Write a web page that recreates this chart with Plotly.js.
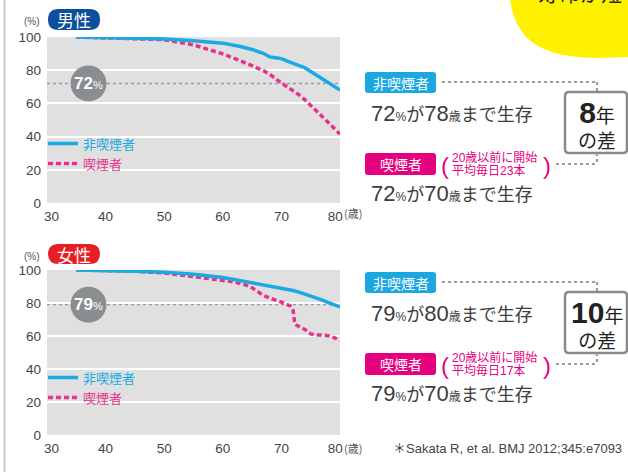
<!DOCTYPE html>
<html><head><meta charset="utf-8">
<script src="https://cdn.plot.ly/plotly-3.0.1.min.js"></script>
<style>html,body{margin:0;padding:0;background:#fff;}#chart{width:628px;height:472px;}</style>
</head><body><div id="chart"></div>
<script>
// ---------- data ----------
const maleAges        = [35,40,45,50,55,60,63,65,67,68,69,70,71,72,73,74,75,76,77,78,79,80];
const maleNonSmoker   = [100,99.6,99.2,98.8,97.8,96.3,94.3,92.5,90,88,87.5,87,85.5,84.2,83,81.5,79.2,77,74.5,72.3,70.5,68];
const maleSmoker      = [100,99.6,99.2,98.4,95.3,89.8,85.7,82.8,79.6,77.6,74.6,72.2,70,67.8,65.2,62.2,59,55.7,52,48.5,45,41.5];
const femaleNonAges   = [35,40,45,50,55,60,63,65,67,69,70,71,72,73,74,75,76,77,78,79,80];
const femaleNonSmoker = [100,99.8,99.3,98.6,97.4,95.5,93.5,92.3,91.2,90,89.2,88.4,87.6,86.6,85.5,84.3,83,81.7,80.3,79,77.6];
const femaleSmkAges   = [35,40,45,50,55,58,60,62,63,64,65,66,67,68,69,70,71,71.5,72,72.3,73,74,75,76,77,78,79,80];
const femaleSmoker    = [100,99.8,99.3,98.2,96,94.8,93.8,92.8,91.8,90.8,89.2,86.8,84.5,83,82,80.5,79,78.3,75.5,67,65.8,64,61.3,60.6,60.6,60.2,59,57.3];
const xTickLabels = ['30','40','50','60','70','80'];
const xTickPos    = [30.75,40,50,60,70,79.2];   // end labels nudged inward as in the original
const yTicks = [0,20,40,60,80,100];
const refLevel = [72, 79];          // male, female survival level
const nonSmokerAge = [78, 80];
const smokerAge = [70, 70];
const yearsGap = [8, 10];
const cigsPerDay = [23, 17];
const sexLabels = ['男性','女性'];
const seriesNames = ['非喫煙者','喫煙者'];

// ---------- styling ----------
const W = 628, H = 472;
const BLUE = '#1aa9e3', PINK = '#e5338c', PINKBOX = '#e4007f', BLUEBOX = '#1ba8e0';
const TXT = '#3c3c3c';
const FONT = '"Liberation Sans", "Noto Sans CJK JP", sans-serif';
const JP = '"Noto Sans CJK JP", sans-serif';
const px = x => x / W, py = y => 1 - y / H;
function rr(x0,y0,x1,y1,r){
  const X=px,Y=py;
  return `M${X(x0+r)},${Y(y0)} L${X(x1-r)},${Y(y0)} Q${X(x1)},${Y(y0)} ${X(x1)},${Y(y0+r)} L${X(x1)},${Y(y1-r)} Q${X(x1)},${Y(y1)} ${X(x1-r)},${Y(y1)} L${X(x0+r)},${Y(y1)} Q${X(x0)},${Y(y1)} ${X(x0)},${Y(y1-r)} L${X(x0)},${Y(y0+r)} Q${X(x0)},${Y(y0)} ${X(x0+r)},${Y(y0)} Z`;
}
const xDom = [47/W, 340/W];
const topDom = [(H-203)/H, (H-37)/H];
const botDom = [(H-435)/H, (H-270)/H];

const traces = [
  {x:maleAges, y:maleSmoker, xaxis:'x', yaxis:'y', mode:'lines', name:seriesNames[1], legend:'legend2',
   line:{color:PINK, width:3.5, dash:'5px,3px'}},
  {x:maleAges, y:maleNonSmoker, xaxis:'x', yaxis:'y', mode:'lines', name:seriesNames[0], legend:'legend',
   line:{color:BLUE, width:3.5}},
  {x:femaleSmkAges, y:femaleSmoker, xaxis:'x2', yaxis:'y2', mode:'lines', name:seriesNames[1], legend:'legend4',
   line:{color:PINK, width:3.5, dash:'5px,3px'}},
  {x:femaleNonAges, y:femaleNonSmoker, xaxis:'x2', yaxis:'y2', mode:'lines', name:seriesNames[0], legend:'legend3',
   line:{color:BLUE, width:3.5}}
];

function xa(dom, anchor){ return {domain:dom, anchor:anchor, range:[30,80], tickvals:xTickPos, ticktext:xTickLabels, showgrid:false, zeroline:false,
  showline:false, ticks:'', ticklabelstandoff:3, tickfont:{size:13.5, color:'#444', family:FONT}, fixedrange:true}; }
function ya(dom, anchor){ return {domain:dom, anchor:anchor, range:[0,100], tickvals:yTicks, showgrid:true, gridcolor:'#ffffff', gridwidth:2,
  zeroline:false, showline:false, ticks:'', ticklabelstandoff:5, tickfont:{size:13.5, color:'#444', family:FONT}, fixedrange:true}; }

function leg(x, y, color){ return {x:px(x), y:py(y), xref:'paper', yref:'paper', xanchor:'left', yanchor:'middle',
  bgcolor:'rgba(0,0,0,0)', borderwidth:0, itemwidth:30, font:{size:13, color:color, family:JP}}; }

const shapes = [], annotations = [];
// left rule
shapes.push({type:'line', xref:'paper', yref:'paper', x0:px(4.5), x1:px(4.5), y0:0, y1:1, line:{color:'#c9c9c9', width:2}});
// yellow badge top right
shapes.push({type:'path', xref:'paper', yref:'paper', layer:'below',
  path:`M${px(510)},${py(-2)} C${px(515)},${py(40)} ${px(540)},${py(58)} ${px(600)},${py(58)} L${px(630)},${py(57)} L${px(630)},${py(-2)} Z`,
  fillcolor:'#fff100', line:{width:0}});
annotations.push({xref:'paper', yref:'paper', x:px(536), y:py(9), xanchor:'left', yanchor:'bottom', showarrow:false,
  text:'寿命が短', font:{size:21, color:'#222', family:JP}});

[0,1].forEach(i => {
  const dy = i ? 235 : 0;        // vertical offset of left panel
  const ry = i ? 200 : 0;        // vertical offset of right panel
  const yref = i ? 'y2' : 'y';
  // pill label
  shapes.push({type:'path', xref:'paper', yref:'paper', path: rr(48, 9+dy, 100, 30+dy-(i?1:0), 10.5),
    fillcolor: i ? '#e61e25' : '#0d4f9d', line:{width:0}});
  annotations.push({xref:'paper', yref:'paper', x:px(74), y:py(19.5+dy), xanchor:'center', yanchor:'middle', showarrow:false,
    text:sexLabels[i], font:{size:17, color:'#fff', family:JP}});
  annotations.push({xref:'paper', yref:'paper', x:px(32), y:py(21.5+dy), xanchor:'center', yanchor:'middle', showarrow:false,
    text:'(%)', font:{size:10, color:'#555', family:FONT}});
  annotations.push({xref:'paper', yref:'paper', x:px(342), y:py(213+dy), xanchor:'left', yanchor:'middle', showarrow:false,
    text:'(歳)', font:{size:11, color:'#555', family:JP}});
  // reference line + circle
  shapes.push({type:'line', xref: (i?'x2':'x')+' domain', x0:0, x1:1, yref:yref, y0:refLevel[i], y1:refLevel[i], layer:'below',
    line:{color:'#9a9a9a', width:1.3, dash:'3px,3px'}});
  shapes.push({type:'circle', xref:'paper', xsizemode:'pixel', xanchor:px(88.5), x0:-18, x1:18,
    yref:yref, ysizemode:'pixel', yanchor:refLevel[i], y0:-18, y1:18, fillcolor:'#8b8e91', line:{width:0}, layer:'above'});
  annotations.push({xref:'paper', yref:yref, x:px(88.5), y:refLevel[i], xanchor:'center', yanchor:'middle', showarrow:false,
    text:`<b>${refLevel[i]}</b><span style="font-size:11px">%</span>`, font:{size:17, color:'#fff', family:FONT}});

  // right panel
  shapes.push({type:'path', xref:'paper', yref:'paper', path: rr(365, 72+ry, 436, 93+ry, 3), fillcolor:BLUEBOX, line:{width:0}});
  annotations.push({xref:'paper', yref:'paper', x:px(400.5), y:py(82.5+ry), xanchor:'center', yanchor:'middle', showarrow:false,
    text:seriesNames[0], font:{size:14, color:'#fff', family:JP}});
  shapes.push({type:'line', xref:'paper', yref:'paper', x0:px(442), x1:px(597), y0:py(82+ry), y1:py(82+ry), line:{color:'#9d9d9d', width:2.2, dash:'dot'}});
  shapes.push({type:'line', xref:'paper', yref:'paper', x0:px(597), x1:px(597), y0:py(82+ry), y1:py(92+ry), line:{color:'#9d9d9d', width:2.2, dash:'dot'}});
  const big = s => `<span style="font-size:22px">${s}</span>`;
  const sm = s => `<span style="font-size:12px">${s}</span>`;
  annotations.push({xref:'paper', yref:'paper', x:px(369), y:py(113+ry), xanchor:'left', yanchor:'middle', showarrow:false,
    text: big(refLevel[i]) + sm('%') + 'が' + big(nonSmokerAge[i]) + sm('歳') + 'まで生存', font:{size:18, color:TXT, family:FONT}});
  // gap box
  shapes.push({type:'path', xref:'paper', yref:'paper', path: rr(565, 92+ry, 627, 153+ry, 4), fillcolor:'#fff', line:{color:'#8a8a8a', width:2.5}});
  annotations.push({xref:'paper', yref:'paper', x:px(597), y:py(124+ry), xanchor:'center', yanchor:'middle', showarrow:false, align:'center',
    text:`<span style="font-size:30px"><b>${yearsGap[i]}</b></span>年<br>の差`, font:{size:19, color:'#222', family:FONT}});
  // smoker
  shapes.push({type:'path', xref:'paper', yref:'paper', path: rr(365, 153+ry, 436, 175+ry, 3), fillcolor:PINKBOX, line:{width:0}});
  annotations.push({xref:'paper', yref:'paper', x:px(400.5), y:py(164+ry), xanchor:'center', yanchor:'middle', showarrow:false,
    text:seriesNames[1], font:{size:14, color:'#fff', family:JP}});
  annotations.push({xref:'paper', yref:'paper', x:px(445), y:py(165+ry), xanchor:'center', yanchor:'middle', showarrow:false,
    text:'(', font:{size:24, color:PINKBOX, family:FONT}});
  annotations.push({xref:'paper', yref:'paper', x:px(547), y:py(165+ry), xanchor:'center', yanchor:'middle', showarrow:false,
    text:')', font:{size:24, color:PINKBOX, family:FONT}});
  annotations.push({xref:'paper', yref:'paper', x:px(450), y:py(157.5+ry), xanchor:'left', yanchor:'middle', showarrow:false,
    text:'20歳以前に開始', font:{size:12, color:PINKBOX, family:FONT}});
  annotations.push({xref:'paper', yref:'paper', x:px(450), y:py(170.5+ry), xanchor:'left', yanchor:'middle', showarrow:false,
    text:`平均毎日${cigsPerDay[i]}本`, font:{size:12, color:PINKBOX, family:FONT}});
  shapes.push({type:'line', xref:'paper', yref:'paper', x0:px(556), x1:px(597), y0:py(164+ry), y1:py(164+ry), line:{color:'#9d9d9d', width:2.2, dash:'dot'}});
  shapes.push({type:'line', xref:'paper', yref:'paper', x0:px(597), x1:px(597), y0:py(153+ry), y1:py(164+ry), line:{color:'#9d9d9d', width:2.2, dash:'dot'}});
  annotations.push({xref:'paper', yref:'paper', x:px(369), y:py(193+ry), xanchor:'left', yanchor:'middle', showarrow:false,
    text: big(refLevel[i]) + sm('%') + 'が' + big(smokerAge[i]) + sm('歳') + 'まで生存', font:{size:18, color:TXT, family:FONT}});
});
annotations.push({xref:'paper', yref:'paper', x:px(391), y:py(448), xanchor:'left', yanchor:'middle', showarrow:false,
  text:'＊Sakata R, et al. BMJ 2012;345:e7093', font:{size:13, color:'#444', family:FONT}});

const layout = {
  width:W, height:H, margin:{l:0,r:0,t:0,b:0}, paper_bgcolor:'#fff', plot_bgcolor:'#e0e0e0',
  font:{family:FONT, color:'#444'},
  xaxis:xa(xDom,'y'), yaxis:ya(topDom,'x'),
  xaxis2:xa(xDom,'y2'), yaxis2:ya(botDom,'x2'),
  legend:leg(43,143.5,BLUE), legend2:leg(43,163.5,PINK), legend3:leg(43,377.5,BLUE), legend4:leg(43,397.5,PINK),
  shapes:shapes, annotations:annotations, showlegend:true
};
Plotly.newPlot('chart', traces, layout, {displayModeBar:false, staticPlot:true});
</script></body></html>
